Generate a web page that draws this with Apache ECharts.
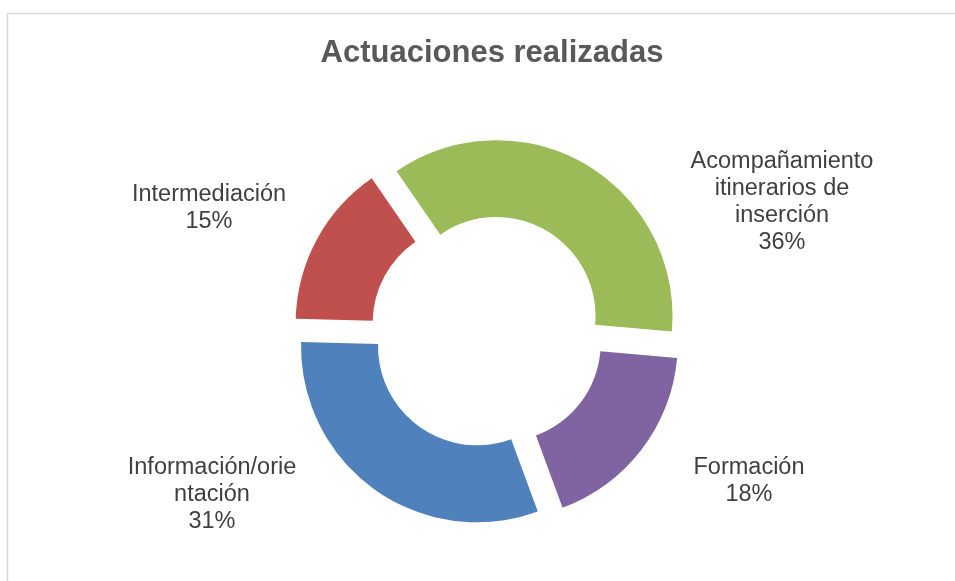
<!DOCTYPE html>
<html>
<head>
<meta charset="utf-8">
<script src="https://cdn.jsdelivr.net/npm/echarts@6/dist/echarts.min.js"></script>
<style>
  html, body { margin: 0; padding: 0; background: #fff; }
  #chart { width: 955px; height: 581px; }
</style>
</head>
<body>
<div id="chart"></div>
<script>
// datos
const categorias = [
  'Acompañamiento\nitinerarios de\ninserción',
  'Formación',
  'Información/orie\nntación',
  'Intermediación'
];
const valores = [36, 18, 31, 15];
const colores = ['#9BBB59', '#8064A2', '#4F81BD', '#C0504D'];

// posiciones de las etiquetas (centro del bloque de texto)
const posEtiquetas = [
  [782, 202],
  [749, 481],
  [212, 495],
  [209, 208]
];

const total = valores.reduce((a, b) => a + b, 0);

const chart = echarts.init(document.getElementById('chart'));

// etiquetas como texto, al estilo de Excel (nombre + porcentaje)
const etiquetas = categorias.map((name, i) => ({
  type: 'text',
  silent: true,
  style: {
    text: name + '\n' + Math.round(valores[i] / total * 100) + '%',
    x: posEtiquetas[i][0],
    y: posEtiquetas[i][1],
    align: 'center',
    verticalAlign: 'middle',
    font: '23.5px "Liberation Sans"',
    lineHeight: 27,
    fill: '#404040'
  }
}));

const option = {
  animation: false,
  title: {
    text: 'Actuaciones realizadas',
    left: 487,
    top: 33,
    textAlign: 'center',
    textStyle: {
      fontFamily: 'Liberation Sans',
      fontSize: 31,
      fontWeight: 'bold',
      color: '#595959'
    }
  },
  graphic: [
    {
      type: 'rect',
      shape: { x: 7.5, y: 13.5, width: 1000, height: 1000 },
      style: { fill: 'none', stroke: '#d9d9d9', lineWidth: 1.5 },
      silent: true
    },
    ...etiquetas
  ],
  series: [
    {
      type: 'pie',
      center: [487.5, 331.7],
      radius: [99, 176],
      startAngle: 124.6,
      clockwise: true,
      selectedMode: 'multiple',
      selectedOffset: 18,
      avoidLabelOverlap: false,
      emphasis: { disabled: true },
      select: { itemStyle: { borderWidth: 0 } },
      itemStyle: { borderWidth: 0 },
      label: { show: false },
      labelLine: { show: false },
      data: categorias.map((name, i) => ({
        name: name,
        value: valores[i],
        selected: true,
        itemStyle: { color: colores[i] }
      }))
    }
  ]
};

chart.setOption(option);
</script>
</body>
</html>
